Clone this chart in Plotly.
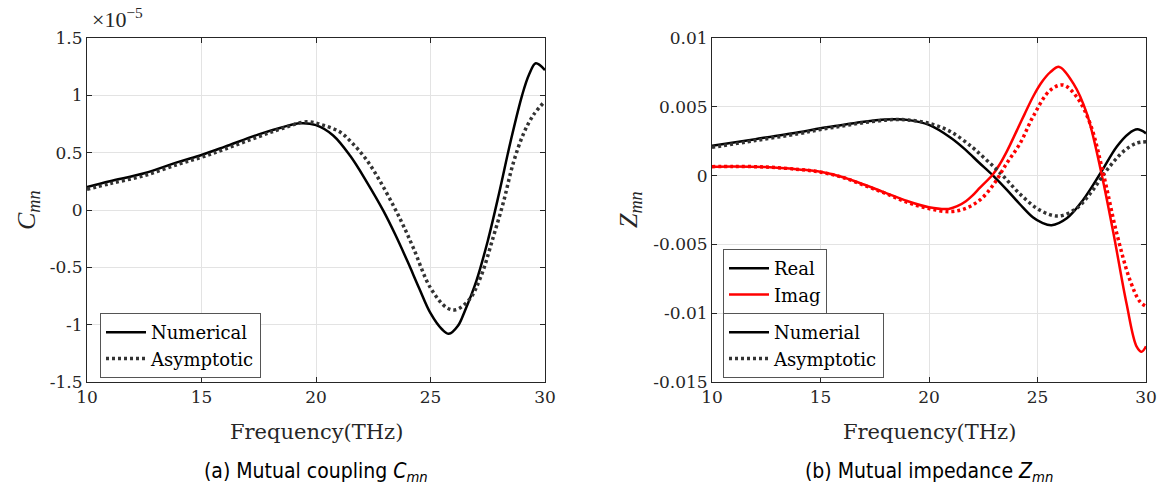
import plotly.graph_objects as go
import numpy as np

# ---------------- data ----------------
# (a) Mutual coupling C_mn, values in units of 1e-5
f_c_num = [10, 11, 12.5, 14, 15, 16, 17.5, 18.5, 19.3, 20, 20.75, 21.5, 22.2, 22.95, 23.45,
           24, 24.5, 25, 25.5, 25.8, 26.2, 26.5, 27, 27.5, 28, 28.5, 29, 29.3, 29.6, 30]
c_num = [0.20, 0.25, 0.32, 0.42, 0.48, 0.55, 0.66, 0.72, 0.756, 0.74, 0.65, 0.47, 0.25, -0.01, -0.21,
         -0.45, -0.68, -0.90, -1.04, -1.08, -1.01, -0.88, -0.62, -0.27, 0.15, 0.60, 1.00, 1.18, 1.28, 1.22]

f_c_asy = [10, 11, 12.5, 14, 15, 16, 17.5, 18.5, 19.6, 20.3, 21.05, 21.6, 22.2, 22.8, 23.4, 23.8,
           24.25, 25, 25.7, 26.1, 26.7, 27.2, 27.75, 28.2, 28.6, 29.05, 29.5, 30]
c_asy = [0.18, 0.23, 0.30, 0.40, 0.46, 0.53, 0.64, 0.71, 0.77, 0.74, 0.68, 0.58, 0.44, 0.25, 0.03, -0.13,
         -0.33, -0.68, -0.85, -0.87, -0.78, -0.58, -0.23, 0.08, 0.40, 0.66, 0.83, 0.95]

# (b) Mutual impedance Z_mn, values in units of 1e-3
f_re_num = [10, 12, 14, 15, 16, 17, 18, 18.5, 19, 20, 21, 21.7, 22.3, 22.95, 23.6, 24.2, 24.8,
            25.2, 25.65, 26.35, 27.1, 27.9, 28.65, 29.2, 29.6, 30]
re_num = [2.17, 2.65, 3.15, 3.44, 3.68, 3.92, 4.08, 4.10, 4.05, 3.68, 2.75, 1.85, 0.95, 0.0, -1.05, -2.1, -3.05,
          -3.42, -3.6, -3.1, -1.77, 0.17, 2.1, 3.05, 3.36, 3.07]

f_re_asy = [10, 12, 14, 15, 16, 17, 18, 18.5, 19, 20, 21, 22, 22.5, 23, 23.4, 24.2, 25.1,
            25.95, 26.8, 27.55, 28.2, 28.95, 29.55, 30]
re_asy = [2.05, 2.55, 3.05, 3.35, 3.60, 3.85, 4.03, 4.08, 4.05, 3.80, 3.19, 2.05, 1.35, 0.62, 0.0, -1.35, -2.5,
          -2.94, -2.38, -1.05, 0.41, 1.74, 2.35, 2.46]

f_im_num = [10, 11, 12.5, 14, 15, 16, 17, 18, 19, 20, 20.9, 21.3, 21.7, 22.0, 22.35, 22.95, 23.27, 23.6,
            24.04, 24.4, 24.8, 25.2, 25.58, 26.0, 26.65, 27.27, 27.88, 28.5, 29.1, 29.57, 29.8, 30]
im_num = [0.65, 0.67, 0.62, 0.45, 0.28, -0.10, -0.65, -1.25, -1.85, -2.30, -2.42, -2.22, -1.86, -1.46, -0.88,
          0.10, 0.85, 1.80, 3.25, 4.45, 5.75, 6.80, 7.50, 7.90, 6.70, 4.52, 0.65, -4.19, -9.28, -12.43, -12.8, -12.4]

f_im_asy = [10, 11, 12.5, 14, 15, 16, 17, 18, 19, 20, 21, 21.7, 22.35, 22.96, 23.58, 24.2, 24.8,
            25.58, 26.19, 26.8, 27.42, 28.03, 28.65, 29.26, 29.72, 30]
im_asy = [0.65, 0.67, 0.62, 0.45, 0.25, -0.12, -0.70, -1.30, -1.95, -2.40, -2.62, -2.38, -1.77, -0.68, 0.89,
          2.35, 4.30, 6.20, 6.58, 5.73, 3.80, 0.17, -4.19, -7.59, -9.16, -9.5]

x_ticks = [10, 15, 20, 25, 30]
c_ticks = [-1.5, -1, -0.5, 0, 0.5, 1, 1.5]
c_ticktext = ["-1.5", "-1", "-0.5", "0", "0.5", "1", "1.5"]
z_ticks = [-0.015, -0.01, -0.005, 0, 0.005, 0.01]
z_ticktext = ["-0.015", "-0.01", "-0.005", "0", "0.005", "0.01"]

# ---------------- styling ----------------
W, H = 1160, 486
SERIF = "DejaVu Serif"
MATH = "Liberation Serif"
SANS = "Liberation Sans Narrow, DejaVu Sans Condensed, DejaVu Sans, sans-serif"
AX = "#262626"
GRID = "#e3e3e3"
DOT_BLACK = "#333333"
RED = "#ff0000"
DOT = "3px,3px"
SOLID_W = 2.5
DOT_W = 3.5
SM = 1.0


def px(x):
    return x / W


def py(y):
    return 1 - y / H


fig = go.Figure()

# left panel
fig.add_trace(go.Scatter(x=f_c_num, y=c_num, mode="lines", name="Numerical",
                         line=dict(color="black", width=SOLID_W, shape="spline", smoothing=SM),
                         xaxis="x", yaxis="y", legend="legend"))
fig.add_trace(go.Scatter(x=f_c_asy, y=c_asy, mode="lines", name="Asymptotic",
                         line=dict(color=DOT_BLACK, width=DOT_W, dash=DOT, shape="spline", smoothing=SM),
                         xaxis="x", yaxis="y", legend="legend"))

# right panel
zs = 1e-3
fig.add_trace(go.Scatter(x=f_re_num, y=np.array(re_num) * zs, mode="lines", showlegend=False,
                         line=dict(color="black", width=SOLID_W, shape="spline", smoothing=SM),
                         xaxis="x2", yaxis="y2"))
fig.add_trace(go.Scatter(x=f_im_num, y=np.array(im_num) * zs, mode="lines", showlegend=False,
                         line=dict(color=RED, width=SOLID_W, shape="spline", smoothing=SM),
                         xaxis="x2", yaxis="y2"))
fig.add_trace(go.Scatter(x=f_re_asy, y=np.array(re_asy) * zs, mode="lines", showlegend=False,
                         line=dict(color=DOT_BLACK, width=DOT_W, dash=DOT, shape="spline", smoothing=SM),
                         xaxis="x2", yaxis="y2"))
fig.add_trace(go.Scatter(x=f_im_asy, y=np.array(im_asy) * zs, mode="lines", showlegend=False,
                         line=dict(color=RED, width=DOT_W, dash=DOT, shape="spline", smoothing=SM),
                         xaxis="x2", yaxis="y2"))

# legend-only entries for the right panel
for name, color, dash, width, leg in [("Real", "black", None, SOLID_W, "legend2"),
                                      ("Imag", RED, None, SOLID_W, "legend2"),
                                      ("Numerial", "black", None, SOLID_W, "legend3"),
                                      ("Asymptotic", DOT_BLACK, DOT, DOT_W, "legend3")]:
    fig.add_trace(go.Scatter(x=[None], y=[None], mode="lines", name=name,
                             line=dict(color=color, width=width, dash=dash),
                             xaxis="x2", yaxis="y2", legend=leg))


def axis(**kw):
    d = dict(showline=True, linecolor=AX, linewidth=1, mirror="ticks", ticks="inside",
             ticklen=5, tickcolor=AX, showgrid=True, gridcolor=GRID, gridwidth=1,
             zeroline=False, automargin=False,
             tickfont=dict(family=SERIF, size=17, color=AX))
    d.update(kw)
    return d


def legend_box(x, y):
    return dict(x=px(x), y=py(y), xref="paper", yref="paper", xanchor="left", yanchor="top",
                bgcolor="white", bordercolor="#555555", borderwidth=1,
                font=dict(family=SERIF, size=18, color="black"),
                tracegroupgap=0, itemwidth=40)


y0, y1 = py(382), py(38)
fig.update_layout(
    width=W, height=H, autosize=False,
    font=dict(family=SERIF, color=AX),
    margin=dict(l=0, r=0, t=0, b=0, pad=0, autoexpand=False),
    paper_bgcolor="white", plot_bgcolor="white",
    xaxis=axis(domain=[px(87), px(545)], range=[10, 30], tickvals=x_ticks, anchor="y"),
    yaxis=axis(domain=[y0, y1], range=[-1.5, 1.5], tickvals=c_ticks, ticktext=c_ticktext, anchor="x"),
    xaxis2=axis(domain=[px(712), px(1146)], range=[10, 30], tickvals=x_ticks, anchor="y2"),
    yaxis2=axis(domain=[y0, y1], range=[-0.015, 0.01], tickvals=z_ticks, ticktext=z_ticktext, anchor="x2"),
    legend=legend_box(100, 313),
    legend2=legend_box(723, 249),
    legend3=legend_box(723, 313),
)

annots = [
    dict(x=px(90), y=py(18), text="×10<sup>−5</sup>", xanchor="left", yanchor="middle",
         font=dict(family=MATH, size=22, color=AX)),
    dict(x=px(316), y=py(432), text="Frequency(THz)", xanchor="center", yanchor="middle",
         font=dict(family=SERIF, size=21, color=AX)),
    dict(x=px(929), y=py(432), text="Frequency(THz)", xanchor="center", yanchor="middle",
         font=dict(family=SERIF, size=21, color=AX)),
    dict(x=px(28), y=py(210), text="<i>C</i><sub><i>mn</i></sub>", xanchor="center", yanchor="middle",
         textangle=-90, font=dict(family=MATH, size=26, color=AX)),
    dict(x=px(630), y=py(210), text="<i>Z</i><sub><i>mn</i></sub>", xanchor="center", yanchor="middle",
         textangle=-90, font=dict(family=MATH, size=26, color=AX)),
    dict(x=px(316), y=py(472), text="(a) Mutual coupling <i>C</i><sub><i>mn</i></sub>",
         xanchor="center", yanchor="middle", font=dict(family=SANS, size=21, color="black")),
    dict(x=px(929), y=py(472), text="(b) Mutual impedance <i>Z</i><sub><i>mn</i></sub>",
         xanchor="center", yanchor="middle", font=dict(family=SANS, size=21, color="black")),
]
for a in annots:
    a.update(xref="paper", yref="paper", showarrow=False)
fig.update_layout(annotations=annots)

fig.write_html("out.html")
